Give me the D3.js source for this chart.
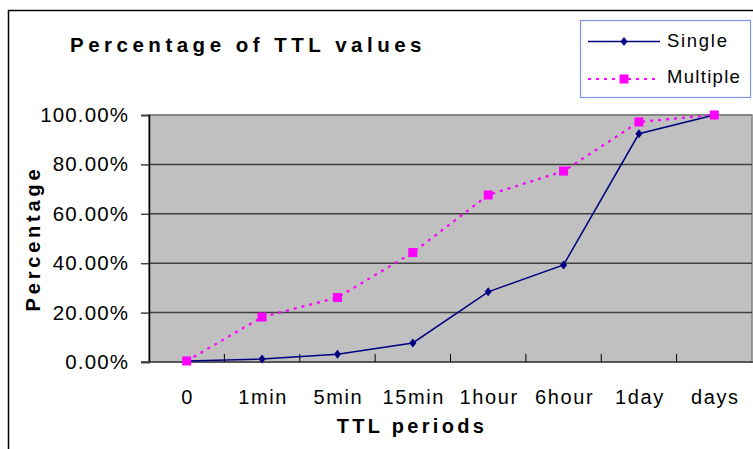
<!DOCTYPE html>
<html>
<head>
<meta charset="utf-8">
<script src="https://cdn.jsdelivr.net/npm/d3@7"></script>
<style>
  body { margin: 0; background: #fff; }
  svg { display: block; font-family: Arial, "Liberation Sans", sans-serif; }
</style>
</head>
<body>
<svg id="chart" width="753" height="449"></svg>
<script>
// TTL periods on the x axis
var periods = ["0", "1min", "5min", "15min", "1hour", "6hour", "1day", "days"]
// cumulative percentage, one value per period
var single = [0.004, 0.012, 0.031, 0.077, 0.284, 0.393, 0.924, 1.0]
var multiple = [0.004, 0.182, 0.261, 0.443, 0.676, 0.773, 0.972, 1.0]
var yTicks = [0, 0.2, 0.4, 0.6, 0.8, 1.0]

var width = 753
var height = 449
var margin = {top: 115, right: 1, bottom: 87, left: 149}

var svg = d3.select("#chart")

// outer chart frame (only top and left edges are visible)
svg.append("path")
  .attr("d", "M8.5,449 V10.5 H753")
  .attr("fill", "none")
  .attr("stroke", "#000")
  .attr("stroke-width", 1.5)

var x = d3.scaleBand()
  .domain(periods)
  .range([margin.left, width - margin.right])

var y = d3.scaleLinear()
  .domain([0, 1])
  .range([height - margin.bottom, margin.top])

// plot background
svg.append("rect")
  .attr("x", margin.left)
  .attr("y", margin.top)
  .attr("width", width - margin.right - margin.left)
  .attr("height", height - margin.bottom - margin.top)
  .attr("fill", "#c0c0c0")
  .attr("stroke", "#808080")
  .attr("stroke-width", 1.5)

// horizontal gridlines
svg.append("g")
  .selectAll("line")
  .data(yTicks.slice(1))
  .join("line")
  .attr("x1", margin.left)
  .attr("x2", width - margin.right)
  .attr("y1", d => y(d))
  .attr("y2", d => y(d))
  .attr("stroke", d => d == 1 ? "#808080" : "#404040")
  .attr("stroke-width", 1.5)

// y axis
var yAxis = svg.append("g")
  .attr("transform", `translate(${margin.left},0)`)
  .call(d3.axisLeft(y).tickValues(yTicks).tickSize(8).tickPadding(12)
    .tickFormat(d => (d * 100).toFixed(2) + "%"))
yAxis.attr("font-family", null)
yAxis.select(".domain").attr("stroke", "#000").attr("stroke-width", 1.5)
yAxis.selectAll(".tick line").attr("stroke", "#404040").attr("stroke-width", 1.5)
yAxis.selectAll("text")
  .attr("font-size", 20.5)
  .attr("letter-spacing", 1.1)
  .attr("fill", "#000")

// x axis: ticks between categories, pointing up into the plot
var xAxis = svg.append("g")
  .attr("transform", `translate(0,${height - margin.bottom})`)
xAxis.append("line")
  .attr("x1", margin.left - 8)
  .attr("x2", width)
  .attr("stroke", "#404040")
  .attr("stroke-width", 1.5)
xAxis.selectAll(".tk")
  .data(periods.slice(1))
  .join("line")
  .attr("class", "tk")
  .attr("x1", d => x(d))
  .attr("x2", d => x(d))
  .attr("y1", 0)
  .attr("y2", -8)
  .attr("stroke", "#000")
  .attr("stroke-width", 1)
xAxis.selectAll("text")
  .data(periods)
  .join("text")
  .attr("x", d => x(d) + x.bandwidth() / 2 + 1)
  .attr("y", 42)
  .attr("text-anchor", "middle")
  .attr("font-size", 20)
  .attr("letter-spacing", 1.6)
  .text(d => d)

// lines
var line = d3.line()
  .x((d, i) => x(periods[i]) + x.bandwidth() / 2)
  .y(d => y(d))

svg.append("path")
  .datum(multiple)
  .attr("d", line)
  .attr("fill", "none")
  .attr("stroke", "#ff00ff")
  .attr("stroke-width", 2.2)
  .attr("stroke-dasharray", "3,5")

svg.append("path")
  .datum(single)
  .attr("d", line)
  .attr("fill", "none")
  .attr("stroke", "#000080")
  .attr("stroke-width", 1.5)

// markers
svg.append("g")
  .selectAll("path")
  .data(single)
  .join("path")
  .attr("transform", (d, i) => `translate(${x(periods[i]) + x.bandwidth() / 2},${y(d)})`)
  .attr("d", "M0,-4.5 L3.5,0 L0,4.5 L-3.5,0 Z")
  .attr("fill", "#000080")

svg.append("g")
  .selectAll("rect")
  .data(multiple)
  .join("rect")
  .attr("x", (d, i) => x(periods[i]) + x.bandwidth() / 2 - 4.5)
  .attr("y", d => y(d) - 4.5)
  .attr("width", 9)
  .attr("height", 9)
  .attr("fill", "#ff00ff")

// titles
svg.append("text")
  .attr("x", 70)
  .attr("y", 52)
  .attr("font-size", 20.5)
  .attr("font-weight", "bold")
  .attr("letter-spacing", 4.5)
  .text("Percentage of TTL values")

svg.append("text")
  .attr("transform", `translate(40,${(margin.top + height - margin.bottom) / 2}) rotate(-90)`)
  .attr("text-anchor", "middle")
  .attr("font-size", 20)
  .attr("font-weight", "bold")
  .attr("letter-spacing", 3.8)
  .text("Percentage")

svg.append("text")
  .attr("x", 412)
  .attr("y", 433)
  .attr("text-anchor", "middle")
  .attr("font-size", 20)
  .attr("font-weight", "bold")
  .attr("letter-spacing", 3.3)
  .text("TTL periods")

// legend
var legend = svg.append("g")
legend.append("rect")
  .attr("x", 580.5)
  .attr("y", 20.5)
  .attr("width", 170)
  .attr("height", 77)
  .attr("fill", "#fff")
  .attr("stroke", "#7896f0")
  .attr("stroke-width", 1.2)

legend.append("line")
  .attr("x1", 588).attr("x2", 660)
  .attr("y1", 41.5).attr("y2", 41.5)
  .attr("stroke", "#000080").attr("stroke-width", 1.5)
legend.append("path")
  .attr("transform", "translate(624,41.5)")
  .attr("d", "M0,-4.5 L3.5,0 L0,4.5 L-3.5,0 Z")
  .attr("fill", "#000080")
legend.append("text")
  .attr("x", 667).attr("y", 47)
  .attr("font-size", 18.5)
  .attr("letter-spacing", 1.7)
  .text("Single")

legend.append("line")
  .attr("x1", 588).attr("x2", 660)
  .attr("y1", 79).attr("y2", 79)
  .attr("stroke", "#ff00ff").attr("stroke-width", 2.2)
  .attr("stroke-dasharray", "3,5")
legend.append("rect")
  .attr("x", 619.5).attr("y", 74.5)
  .attr("width", 9).attr("height", 9)
  .attr("fill", "#ff00ff")
legend.append("text")
  .attr("x", 667).attr("y", 83)
  .attr("font-size", 18.5)
  .attr("letter-spacing", 1.3)
  .text("Multiple")
</script>
</body>
</html>
